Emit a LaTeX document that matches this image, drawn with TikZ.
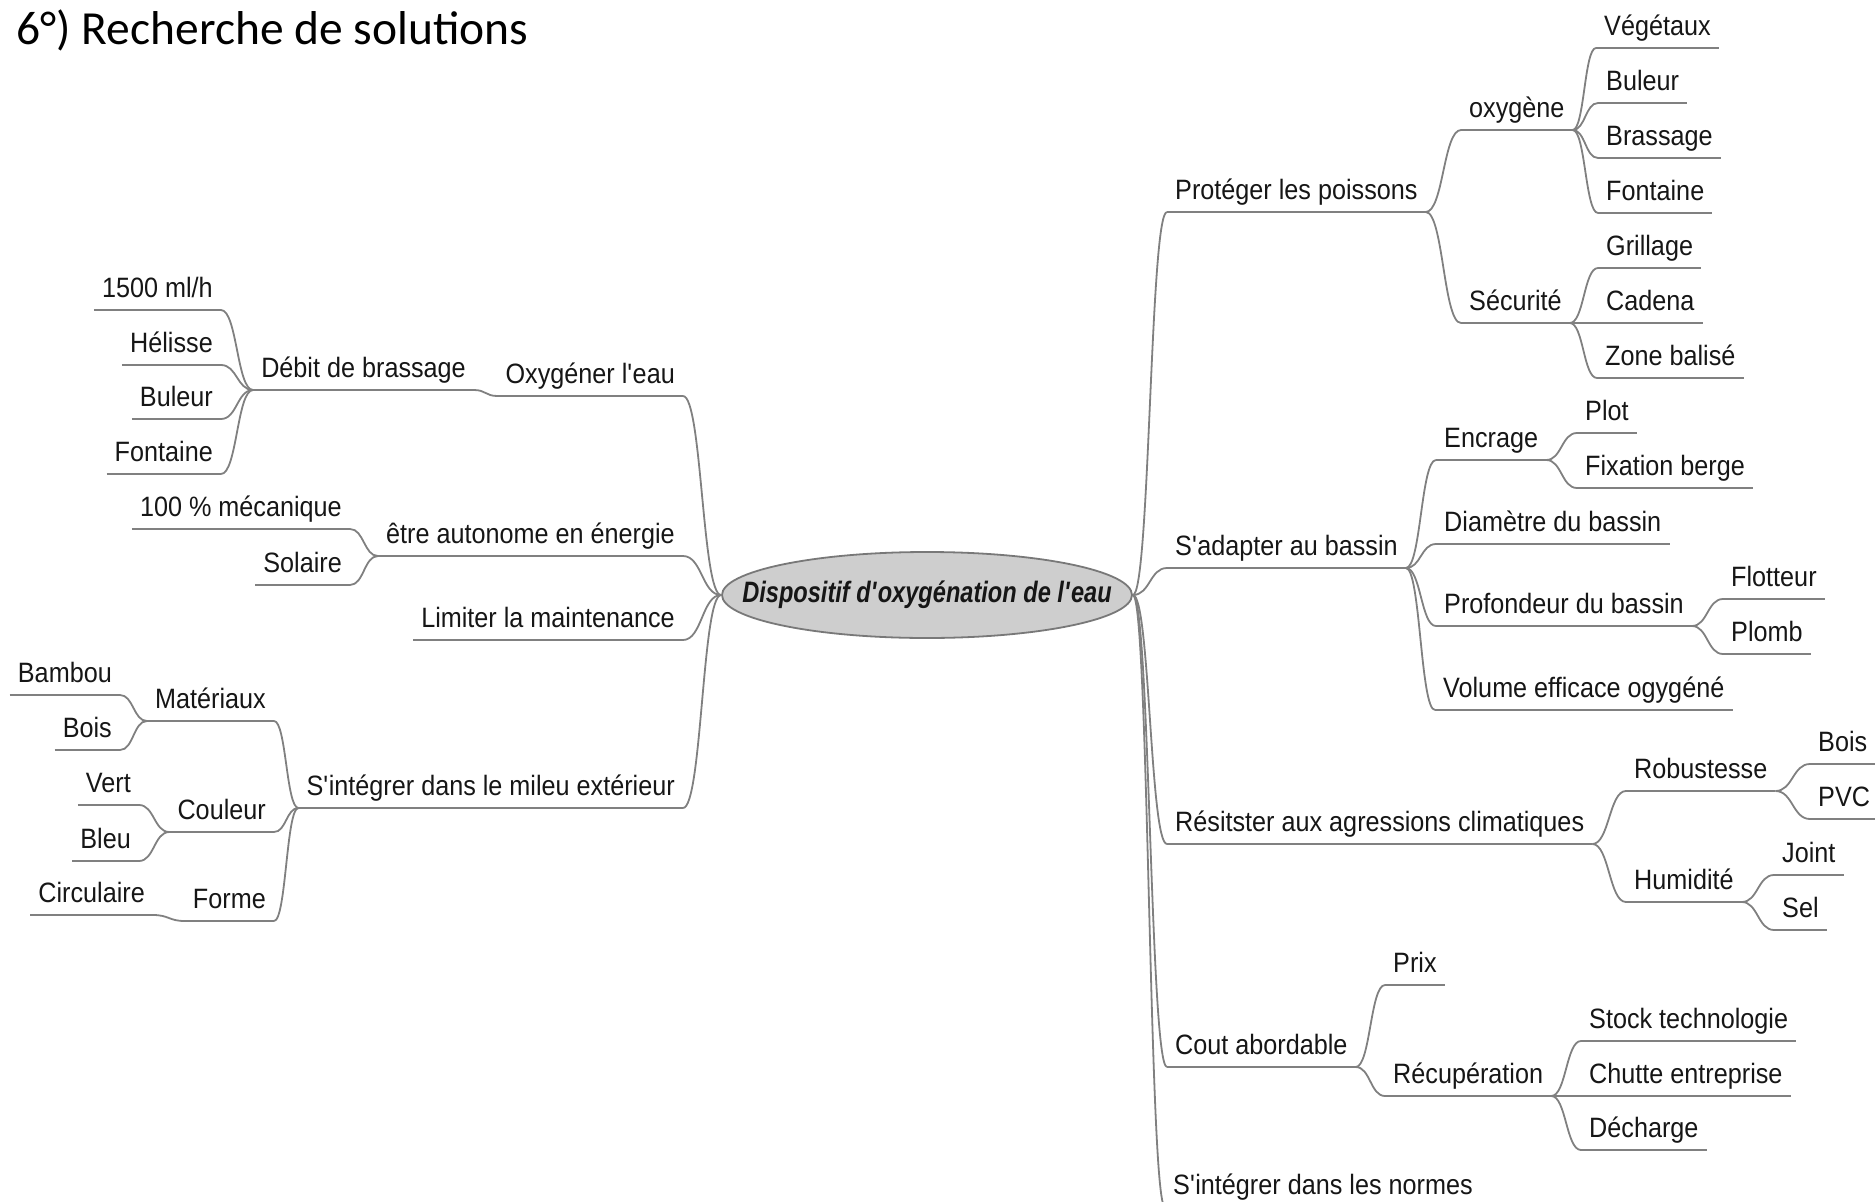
\documentclass[tikz,border=0pt]{standalone}
\usepackage{fontspec}
\usetikzlibrary{shapes.geometric,calc}
\newfontfamily\topicfont[FakeStretch=0.9]{Liberation Sans}
\newfontfamily\centralfont[FakeStretch=0.8]{Liberation Sans}
\newfontfamily\headfont{Carlito}
\definecolor{branchgray}{RGB}{128,128,128}
\definecolor{rootfill}{RGB}{206,206,206}
\definecolor{rootline}{RGB}{120,120,120}
\definecolor{ink}{RGB}{22,22,22}
\newcommand\ap{\textquotesingle}

\tikzset{
  branch/.style={draw=branchgray, line width=1.8pt},
  topic/.style={font=\topicfont\fontsize{28}{30}\selectfont, text=ink,
    inner xsep=8pt, inner ysep=12pt, text height=20pt, text depth=0pt,
    append after command={(\tikzlastnode.south west) edge[branch] (\tikzlastnode.south east)}},
  rtopic/.style={topic, anchor=south west},
  ltopic/.style={topic, anchor=south east},
  central/.style={ellipse, fill=rootfill, draw=rootline, line width=1.8pt,
    minimum width=410pt, minimum height=86pt, inner sep=0pt},
  centraltext/.style={text=ink, inner sep=0pt,
    font=\centralfont\bfseries\itshape\fontsize{29.5}{31}\selectfont},
}
% S-shaped branch: leaves and enters horizontally, turns at mid-x
\newcommand\conn[2]{\draw[branch] let \p1=(#1), \p2=(#2) in
  (\p1) .. controls ({0.5*\x1+0.5*\x2},\y1) and ({0.5*\x1+0.5*\x2},\y2) .. (\p2);}

\begin{document}
\begin{tikzpicture}[x=1pt,y=-1pt]
\useasboundingbox (0,0) rectangle (1875,1202);
\clip (0,0) rectangle (1875,1202);

\node[anchor=base west, text=black, font=\headfont\fontsize{47.5}{50}\selectfont] (title) at (13,44) {6°) Recherche de solutions};

\node[central] (root) at (927,595) {};
\node[centraltext] (roottext) at (root.center) {Dispositif d\ap oxygénation de l\ap eau};

% ---- right-hand branches ----
\node[rtopic] (prot) at (1167,212) {Protéger les poissons};
\node[rtopic] (oxyg) at (1461,130) {oxygène};
\node[rtopic] (veg)  at (1596,48)  {Végétaux};
\node[rtopic] (bulr) at (1598,103) {Buleur};
\node[rtopic] (bra)  at (1598,158) {Brassage};
\node[rtopic] (fonr) at (1598,213) {Fontaine};
\node[rtopic] (secu) at (1461,323) {Sécurité};
\node[rtopic] (gri)  at (1598,268) {Grillage};
\node[rtopic] (cad)  at (1598,323) {Cadena};
\node[rtopic] (zone) at (1597,378) {Zone balisé};

\node[rtopic] (adap) at (1167,568) {S\ap adapter au bassin};
\node[rtopic] (encr) at (1436,460) {Encrage};
\node[rtopic] (plot) at (1577,433) {Plot};
\node[rtopic] (fixb) at (1577,488) {Fixation berge};
\node[rtopic] (diam) at (1436,544) {Diamètre du bassin};
\node[rtopic] (prof) at (1436,626) {Profondeur du bassin};
\node[rtopic] (flot) at (1723,599) {Flotteur};
\node[rtopic] (plom) at (1723,654) {Plomb};
\node[rtopic] (volu) at (1435,710) {Volume efficace ogygéné};

\node[rtopic] (resi) at (1167,844) {Résitster aux agressions climatiques};
\node[rtopic] (robu) at (1626,791) {Robustesse};
\node[rtopic] (boisr) at (1810,764) {Bois};
\node[rtopic] (pvc)  at (1810,819) {PVC};
\node[rtopic] (humi) at (1626,902) {Humidité};
\node[rtopic] (join) at (1774,875) {Joint};
\node[rtopic] (sel)  at (1774,930) {Sel};

\node[rtopic] (cout) at (1167,1067) {Cout abordable};
\node[rtopic] (prix) at (1385,985) {Prix};
\node[rtopic] (recu) at (1385,1096) {Récupération};
\node[rtopic] (stoc) at (1581,1041) {Stock technologie};
\node[rtopic] (chut) at (1581,1096) {Chutte entreprise};
\node[rtopic] (dech) at (1581,1150) {Décharge};

\node[rtopic] (norm) at (1165,1207) {S\ap intégrer dans les normes};

% ---- left-hand branches ----
\node[ltopic] (oxy)   at (683,396) {Oxygéner l\ap eau};
\node[ltopic] (debit) at (474,390) {Débit de brassage};
\node[ltopic] (lmil)  at (221,310) {1500 ml/h};
\node[ltopic] (heli)  at (221,365) {Hélisse};
\node[ltopic] (bull)  at (221,419) {Buleur};
\node[ltopic] (fonl)  at (221,474) {Fontaine};

\node[ltopic] (auto)  at (683,556) {être autonome en énergie};
\node[ltopic] (meca)  at (350,529) {100 \% mécanique};
\node[ltopic] (sola)  at (350,585) {Solaire};

\node[ltopic] (limi)  at (683,640) {Limiter la maintenance};

\node[ltopic] (mili)  at (683,808) {S\ap intégrer dans le mileu extérieur};
\node[ltopic] (mate)  at (274,721) {Matériaux};
\node[ltopic] (bamb)  at (120,695) {Bambou};
\node[ltopic] (boisl) at (120,750) {Bois};
\node[ltopic] (coul)  at (274,832) {Couleur};
\node[ltopic] (vert)  at (139,805) {Vert};
\node[ltopic] (bleu)  at (139,861) {Bleu};
\node[ltopic] (form)  at (274,921) {Forme};
\node[ltopic] (circ)  at (153,915) {Circulaire};

% ---- connectors ----
\foreach \c in {prot,adap,resi,cout,norm} {\conn{root.east}{\c.south west}}
\foreach \c in {oxyg,secu} {\conn{prot.south east}{\c.south west}}
\foreach \c in {veg,bulr,bra,fonr} {\conn{oxyg.south east}{\c.south west}}
\foreach \c in {gri,cad,zone} {\conn{secu.south east}{\c.south west}}
\foreach \c in {encr,diam,prof,volu} {\conn{adap.south east}{\c.south west}}
\foreach \c in {plot,fixb} {\conn{encr.south east}{\c.south west}}
\foreach \c in {flot,plom} {\conn{prof.south east}{\c.south west}}
\foreach \c in {robu,humi} {\conn{resi.south east}{\c.south west}}
\foreach \c in {boisr,pvc} {\conn{robu.south east}{\c.south west}}
\foreach \c in {join,sel} {\conn{humi.south east}{\c.south west}}
\foreach \c in {prix,recu} {\conn{cout.south east}{\c.south west}}
\foreach \c in {stoc,chut,dech} {\conn{recu.south east}{\c.south west}}

\foreach \c in {oxy,auto,limi,mili} {\conn{root.west}{\c.south east}}
\conn{oxy.south west}{debit.south east}
\foreach \c in {lmil,heli,bull,fonl} {\conn{debit.south west}{\c.south east}}
\foreach \c in {meca,sola} {\conn{auto.south west}{\c.south east}}
\foreach \c in {mate,coul,form} {\conn{mili.south west}{\c.south east}}
\foreach \c in {bamb,boisl} {\conn{mate.south west}{\c.south east}}
\foreach \c in {vert,bleu} {\conn{coul.south west}{\c.south east}}
\conn{form.south west}{circ.south east}
\end{tikzpicture}
\end{document}
